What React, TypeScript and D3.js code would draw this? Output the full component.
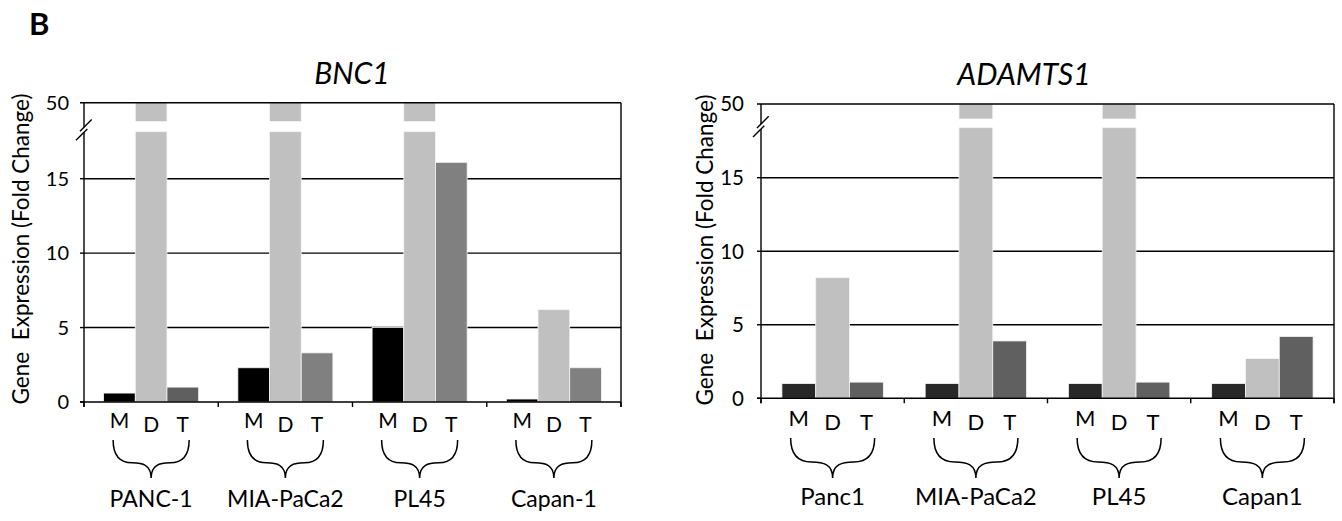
import React from "react";
import * as d3 from "d3";

// cell lines and conditions
const conditions = ["M", "D", "T"];
const bncGroups = ["PANC-1", "MIA-PaCa2", "PL45", "Capan-1"];
const adamGroups = ["Panc1", "MIA-PaCa2", "PL45", "Capan1"];

// fold change values (50 = bar runs past the break to the top)
const bncM = [0.6, 2.3, 5.0, 0.2];
const bncD = [50, 50, 50, 6.2];
const bncT = [1.0, 3.3, 16.1, 2.3];
const adamM = [1.0, 1.0, 1.0, 1.0];
const adamD = [8.2, 50, 50, 2.7];
const adamT = [1.1, 3.9, 1.1, 4.2];

const yTicks = [0, 5, 10, 15];
const topTick = 50;

const FONT = "Lato, 'Open Sans', sans-serif";

const bncColors = { M: "#000000", D: "#c0c0c0", T: "#808080" };
const bncOverride = { "PANC-1|T": "#5f5f5f" };
const adamColors = { M: "#282828", D: "#c0c0c0", T: "#606060" };

const leftLayout = {
  left: 84, right: 621, top: 102.7, zero: 402, y15: 178.7,
  lowTop: 131.7, upBottom: 121.5, pad: 0.146,
  titleX: 352, titleY: 84, labelX: 29, labelY: 249,
  tickGap: 15, mY: 26, dY: 30, braceTop: 440, braceBot: 478, braceHalf: 38,
  nameY: 507, fs: 20, letterFs: 21, nameFs: 23, titleFs: 30, labelFs: 22.5,
};
const rightLayout = {
  left: 761, right: 1334, top: 104, zero: 398.3, y15: 177.7,
  lowTop: 127.7, upBottom: 119, pad: 0.146,
  titleX: 1024, titleY: 85, labelX: 713, labelY: 250,
  tickGap: 17, mY: 28, dY: 32, braceTop: 438, braceBot: 478, braceHalf: 42,
  nameY: 505, fs: 20.5, letterFs: 22, nameFs: 24, titleFs: 30, labelFs: 22.5,
};

// curly brace opening upwards, tip pointing down at cx
function bracePath(cx, half, y0, y1) {
  const h = y1 - y0;
  const ym = y0 + h * 0.6;
  const x0 = cx - half;
  const x1 = cx + half;
  const xl = x0 + half * 0.5;
  const xr = x1 - half * 0.5;
  return (
    `M${x0},${y0} C${x0},${y0 + h * 0.45} ${x0 + half * 0.2},${ym} ${xl},${ym} ` +
    `C${cx - half * 0.22},${ym} ${cx},${ym + h * 0.06} ${cx},${y1} ` +
    `C${cx},${ym + h * 0.06} ${cx + half * 0.22},${ym} ${xr},${ym} ` +
    `C${x1 - half * 0.2},${ym} ${x1},${y0 + h * 0.45} ${x1},${y0}`
  );
}

function BrokenBars({ title, groups, values, colors, override, L }) {
  const x0 = d3.scaleBand().domain(groups).range([L.left, L.right]);
  const bw = x0.bandwidth();
  const x1 = d3.scaleBand().domain(conditions).range([bw * L.pad, bw * (1 - L.pad)]);
  const yLow = d3.scaleLinear().domain([0, 15]).range([L.zero, L.y15]);
  const clip = yLow.invert(L.lowTop);
  const yHigh = d3.scaleLinear().domain([clip, topTick]).range([L.upBottom, L.top]);

  const bars = [];
  groups.forEach((g, gi) => {
    conditions.forEach((c, ci) => {
      const v = values[ci][gi];
      const x = x0(g) + x1(c);
      const fill = override[g + "|" + c] || colors[c];
      if (v <= clip) {
        bars.push({ key: g + c, x, y: yLow(v), h: L.zero - yLow(v), fill });
      } else {
        bars.push({ key: g + c + "lo", x, y: L.lowTop, h: L.zero - L.lowTop, fill });
        const yt = yHigh(Math.min(v, topTick));
        bars.push({ key: g + c + "hi", x, y: yt, h: L.upBottom - yt, fill });
      }
    });
  });

  const bounds = groups.map((g) => x0(g)).concat([L.right]);
  const yb = (L.lowTop + L.upBottom) / 2 + 3;
  const ax = L.left;

  return (
    <g fontFamily={FONT}>
      <text x={L.titleX} y={L.titleY} textAnchor="middle" fontStyle="italic" fontSize={L.titleFs}>
        {title}
      </text>
      <text
        transform={`translate(${L.labelX},${L.labelY}) rotate(-90)`}
        textAnchor="middle"
        fontSize={L.labelFs}
        style={{ whiteSpace: "pre" }}
      >
        {"Gene  Expression (Fold Change)"}
      </text>

      {yTicks.filter((t) => t > 0).map((t) => (
        <line key={"g" + t} x1={L.left} x2={L.right} y1={yLow(t)} y2={yLow(t)} stroke="#000" strokeWidth={1.4} />
      ))}

      {bars.map((b) => (
        <rect key={b.key} x={b.x} y={b.y} width={x1.bandwidth()} height={b.h} fill={b.fill} stroke="#f4f4f4" strokeWidth={0.8} />
      ))}

      {/* frame */}
      <line x1={L.left - 4} x2={L.right} y1={L.top} y2={L.top} stroke="#000" strokeWidth={1.4} />
      <line x1={L.right} x2={L.right} y1={L.top} y2={L.zero + 5} stroke="#000" strokeWidth={1.4} />
      <line x1={ax} x2={ax} y1={L.top} y2={L.zero + 5} stroke="#000" strokeWidth={1.4} />
      <line x1={L.left - 4} x2={L.right} y1={L.zero} y2={L.zero} stroke="#000" strokeWidth={1.4} />
      {yTicks.map((t) => (
        <line key={"t" + t} x1={L.left - 4} x2={L.left} y1={yLow(t)} y2={yLow(t)} stroke="#000" strokeWidth={1.4} />
      ))}
      {bounds.map((bx, i) => (
        <line key={"b" + i} x1={bx} x2={bx} y1={L.zero} y2={L.zero + 5} stroke="#000" strokeWidth={1.4} />
      ))}

      {/* axis break */}
      <polygon
        points={`${ax - 3},${yb + 1} ${ax + 3},${yb - 5} ${ax + 3},${yb} ${ax - 3},${yb + 6}`}
        fill="#fff"
      />
      <line x1={ax - 4} y1={yb + 1.7} x2={ax + 7.7} y2={yb - 10} stroke="#000" strokeWidth={1.4} />
      <line x1={ax - 8} y1={yb + 10.7} x2={ax + 3.3} y2={yb - 0.6} stroke="#000" strokeWidth={1.4} />

      {/* tick labels */}
      {yTicks.map((t) => (
        <text key={"l" + t} x={L.left - L.tickGap} y={yLow(t)} dy="0.36em" textAnchor="end" fontSize={L.fs}>
          {t}
        </text>
      ))}
      <text x={L.left - L.tickGap} y={L.top} dy="0.36em" textAnchor="end" fontSize={L.fs}>
        {topTick}
      </text>

      {/* condition letters, braces, cell line names */}
      {groups.map((g) => (
        <g key={"n" + g}>
          {conditions.map((c) => (
            <text
              key={c}
              x={x0(g) + x1(c) + x1.bandwidth() / 2}
              y={L.zero + (c === "M" ? L.mY : L.dY)}
              textAnchor="middle"
              fontSize={L.letterFs}
            >
              {c}
            </text>
          ))}
          <path
            d={bracePath(x0(g) + bw / 2, L.braceHalf, L.braceTop, L.braceBot)}
            fill="none"
            stroke="#000"
            strokeWidth={1.5}
          />
          <text x={x0(g) + bw / 2} y={L.nameY} textAnchor="middle" fontSize={L.nameFs}>
            {g}
          </text>
        </g>
      ))}
    </g>
  );
}

export default function App() {
  return (
    <svg
      width={1342}
      height={521}
      style={{ position: "absolute", left: 0, top: 0, background: "#fff" }}
    >
      <text x={29} y={35} fontFamily={FONT} fontWeight="bold" fontSize={31}>
        B
      </text>
      <BrokenBars
        title="BNC1"
        groups={bncGroups}
        values={[bncM, bncD, bncT]}
        colors={bncColors}
        override={bncOverride}
        L={leftLayout}
      />
      <BrokenBars
        title="ADAMTS1"
        groups={adamGroups}
        values={[adamM, adamD, adamT]}
        colors={adamColors}
        override={{}}
        L={rightLayout}
      />
    </svg>
  );
}
